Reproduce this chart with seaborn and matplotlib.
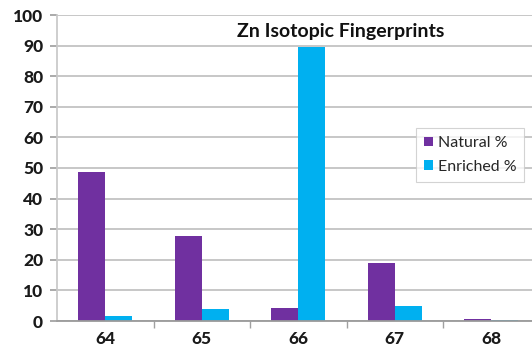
import matplotlib
matplotlib.use("Agg")
import matplotlib.pyplot as plt
import seaborn as sns
import pandas as pd

isotopes = ["64", "65", "66", "67", "68"]
natural_pct = [48.6, 27.9, 4.1, 18.8, 0.6]
enriched_pct = [1.6, 3.9, 89.6, 4.9, 0.3]
series_names = ["Natural %", "Enriched %"]
colors = ["#7030A0", "#00B0F0"]

df = pd.DataFrame({
    "isotope": isotopes * 2,
    "pct": natural_pct + enriched_pct,
    "series": [series_names[0]] * len(isotopes) + [series_names[1]] * len(isotopes),
})

sns.set_theme(style="white")
plt.rcParams["font.family"] = ["Lato", "DejaVu Sans"]

fig = plt.figure(figsize=(5.32, 3.54), dpi=100)
ax = fig.add_axes([57 / 532, 33 / 354, 482.5 / 532, 306 / 354])

sns.barplot(data=df, x="isotope", y="pct", hue="series", order=isotopes,
            hue_order=series_names, palette=colors, width=0.56,
            saturation=1, ax=ax, linewidth=0)

ax.set_ylim(0, 100)
ax.set_xlim(-0.5, len(isotopes) - 0.5)
ax.set_yticks(range(0, 101, 10))
ax.set_xlabel("")
ax.set_ylabel("")
ax.yaxis.grid(True, color="#bdbdbd", linewidth=1.2)
ax.set_axisbelow(True)

for side in ["top", "right"]:
    ax.spines[side].set_visible(False)
ax.spines["left"].set_color("#c8c8c8")
ax.spines["bottom"].set_color("#9a9a9a")
ax.spines["bottom"].set_linewidth(1.3)

ax.tick_params(axis="y", which="major", length=5, color="#a0a0a0", pad=5,
               labelsize=12.5, left=True)
ax.tick_params(axis="x", which="major", length=0, pad=7, labelsize=12.5)
ax.set_xticks([i + 0.5 for i in range(len(isotopes))], minor=True)
ax.tick_params(axis="x", which="minor", length=5, color="#a0a0a0", bottom=True)
for lab in ax.get_xticklabels() + ax.get_yticklabels():
    lab.set_fontweight("black")
    lab.set_color("#1a1a1a")

fig.text(341 / 532, 1 - 32 / 354, "Zn Isotopic Fingerprints", ha="center",
         va="center", fontsize=14, fontweight="bold", color="#111111")

leg = ax.legend(loc="upper left", bbox_to_anchor=((416 - 57) / 482.5, (321 - 128) / 306),
                frameon=True, fontsize=11.5, handlelength=0.55, handleheight=0.55,
                handletextpad=0.3, borderpad=0.5, labelspacing=0.6,
                borderaxespad=0, fancybox=False, edgecolor="#c8c8c8")
leg.get_frame().set_linewidth(0.8)

fig.savefig("out.png", dpi=100)
